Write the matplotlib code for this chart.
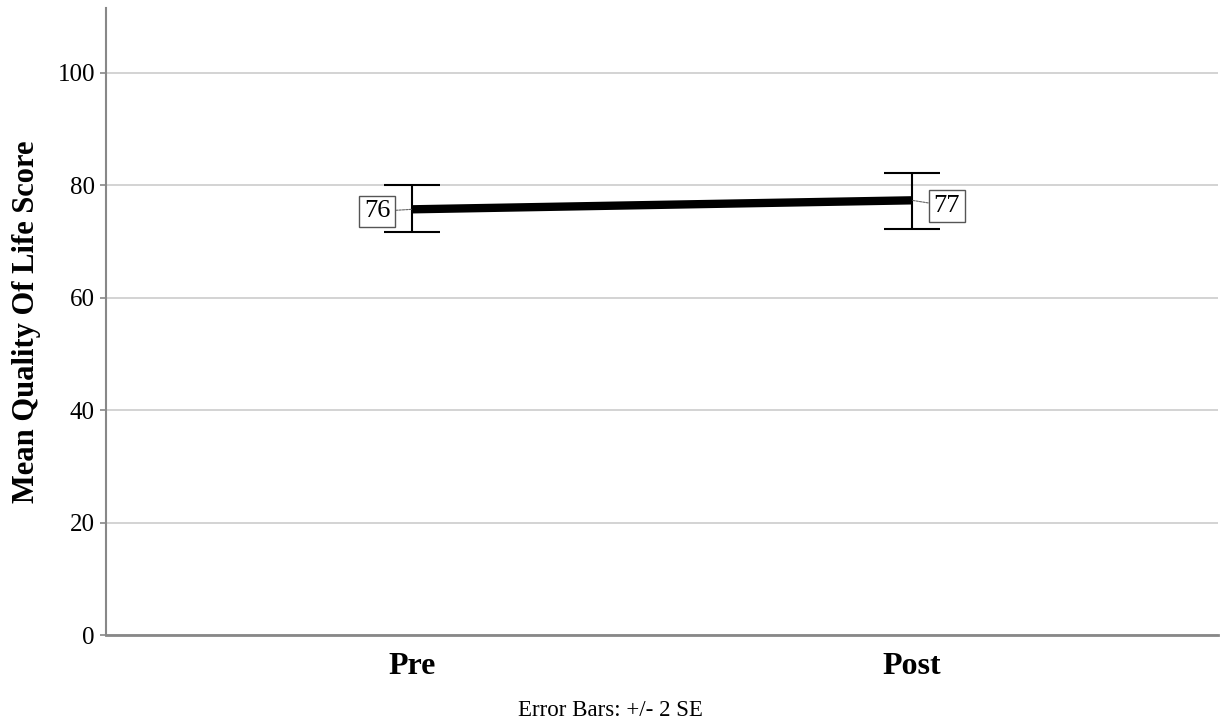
import matplotlib.pyplot as plt

# data
groups = ['Pre', 'Post']
means = [75.7, 77.3]
lower = [71.7, 72.2]
upper = [80.1, 82.1]
labels = ['76', '77']

plt.rcParams['font.family'] = ['Liberation Serif', 'DejaVu Serif']

fig = plt.figure(figsize=(12.21, 7.27), dpi=100)
ax = fig.add_axes([106 / 1221, 1 - 635 / 727, 1112 / 1221, 627 / 727])

x = list(range(len(groups)))
err = [[m - l for m, l in zip(means, lower)], [u - m for m, u in zip(means, upper)]]

ax.errorbar(x, means, yerr=err, fmt='none', ecolor='black', elinewidth=1.5,
            capsize=20, capthick=1.5, zorder=3)
ax.plot(x, means, color='black', linewidth=6, solid_capstyle='butt', zorder=4)

# value boxes with leader lines
offsets = [(-25, -1.5), (25, -4)]
for xi, m, lab, off in zip(x, means, labels, offsets):
    ax.annotate(lab, (xi, m), xytext=off, textcoords='offset points',
                ha='center', va='center', fontsize=19,
                bbox=dict(boxstyle='square,pad=0.18', fc='white', ec='#555555', lw=1),
                arrowprops=dict(arrowstyle='-', color='#666666', lw=0.8,
                                linestyle=(0, (2, 1)), shrinkA=0, shrinkB=0),
                zorder=5)

ax.set_xlim(-0.612, 1.612)
ax.set_ylim(0, 111.5)
ax.set_yticks([0, 20, 40, 60, 80, 100])
ax.set_xticks(x)
ax.set_xticklabels(groups, fontsize=23, fontweight='bold')
ax.tick_params(axis='y', labelsize=18, length=4, pad=4, color='#888888', width=1.2)
ax.tick_params(axis='x', length=0, pad=12)
ax.yaxis.grid(True, color='#cccccc', linewidth=1.2)
ax.set_axisbelow(True)

for s in ['top', 'right']:
    ax.spines[s].set_visible(False)
ax.spines['left'].set_color('#888888')
ax.spines['bottom'].set_color('#888888')
ax.spines['left'].set_linewidth(1.5)
ax.spines['bottom'].set_linewidth(2)

ax.set_ylabel('Mean Quality Of Life Score', fontsize=22, fontweight='bold', labelpad=12)
fig.text(0.5, 1 - 711 / 727, 'Error Bars: +/- 2 SE', ha='center', va='center', fontsize=16.5)

fig.savefig('out.png', dpi=100)
